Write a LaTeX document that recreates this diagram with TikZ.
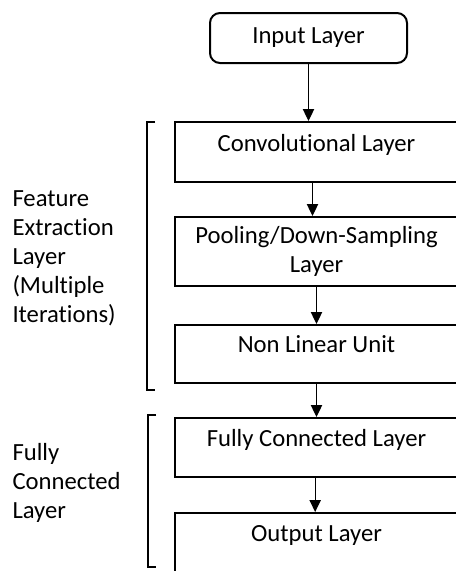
\documentclass[tikz,border=0pt]{standalone}
\usepackage{fontspec}
\setmainfont{Carlito}[Ligatures={NoCommon}]
\usetikzlibrary{arrows.meta}

\tikzset{every picture/.style={line width=0.75pt}}
\tikzset{
  layerbox/.style={draw, line width=1.5pt, minimum width=212.25pt, inner xsep=0pt, inner ysep=0pt, align=center, font=\fontsize{18.5}{21.75}\selectfont},
  sidetext/.style={anchor=west, align=left, inner sep=0pt, font=\fontsize{18.5}{21.75}\selectfont},
  flow/.style={line width=0.9pt, -{Triangle[length=9pt,width=8.5pt]}},
  bracket/.style={line width=0.9pt}
}

\begin{document}
\begin{tikzpicture}[x=0.75pt,y=0.75pt,yscale=-1,xscale=1]
\useasboundingbox (0,0) rectangle (456,571);

%Shape: Rounded Rect [id:input]
\node[layerbox, rounded corners=7.5pt, minimum width=147.75pt, text height=22.5pt, text depth=15pt] (inp) at (308.5,38) {Input Layer};
%Shape: Rectangle [id:conv]
\node[layerbox, text height=21.75pt, text depth=23.25pt] (conv) at (316.5,152) {Convolutional Layer};
%Shape: Rectangle [id:pool]
\node[layerbox, minimum height=51.75pt] (pool) at (316.5,251.5) {Pooling/Down-Sampling\\Layer};
%Shape: Rectangle [id:nonlin]
\node[layerbox, text height=20.25pt, text depth=23.25pt] (nonlin) at (316.5,354) {Non Linear Unit};
%Shape: Rectangle [id:fully]
\node[layerbox, text height=21pt, text depth=23.25pt] (fully) at (316.5,447.5) {Fully Connected Layer};
%Shape: Rectangle [id:output]
\node[layerbox, text height=21pt, text depth=25.5pt] (out) at (316.5,544) {Output Layer};

%Straight Lines [id:arrows]
\draw[flow] (inp.south) -- (inp.south |- conv.north);
\draw[flow] ([xshift=-3pt]conv.south) -- ([xshift=-3pt]conv.south |- pool.north);
\draw[flow] (pool.south) -- (pool.south |- nonlin.north);
\draw[flow] (nonlin.south) -- (nonlin.south |- fully.north);
\draw[flow] ([xshift=-1pt]fully.south) -- ([xshift=-1pt]fully.south |- out.north);

%Shape: Brackets [id:brackets]
\draw[bracket] (155,122) -- (147,122) -- (147,390) -- (155,390);
\draw[bracket] (156,415) -- (148,415) -- (148,567) -- (156,567);

% Text Node
\node[sidetext] (feat) at (12,258) {Feature\\Extraction\\Layer\\(Multiple\\Iterations)};
% Text Node
\node[sidetext] (fclabel) at (12,483) {Fully\\Connected\\Layer};

\end{tikzpicture}
\end{document}
